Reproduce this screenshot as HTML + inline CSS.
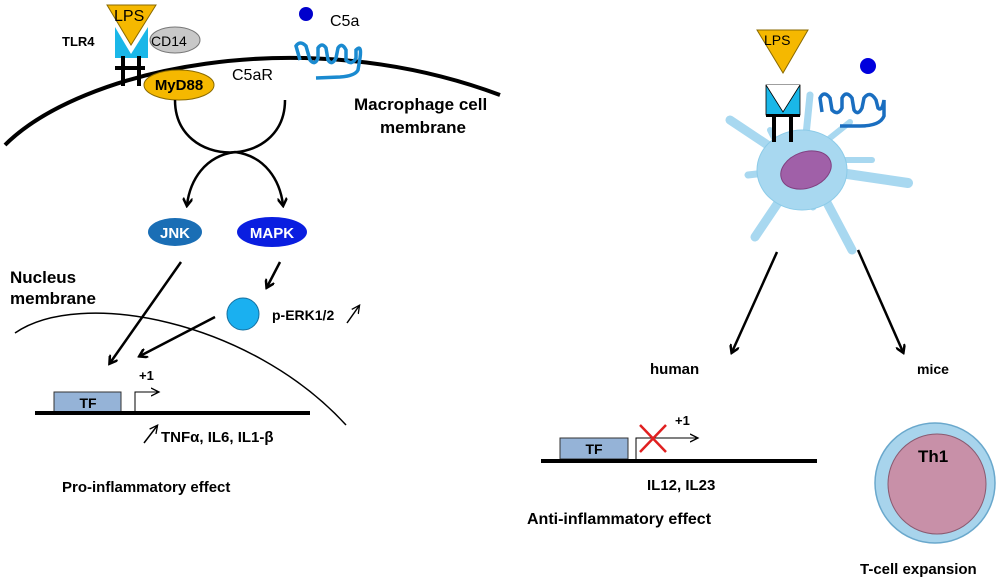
<!DOCTYPE html>
<html><head><meta charset="utf-8"><style>
html,body{margin:0;padding:0;background:#fff;}
svg{display:block;font-family:"Liberation Sans",sans-serif;font-weight:bold;}
</style></head><body>
<svg width="1000" height="582" viewBox="0 0 1000 582" xmlns="http://www.w3.org/2000/svg">
<defs>
<marker id="ah" markerWidth="10" markerHeight="10" refX="7" refY="5" orient="auto" markerUnits="userSpaceOnUse">
<path d="M0,0 L8,5 L0,10" fill="none" stroke="#000" stroke-width="2.5"/></marker>
<marker id="ah2" markerWidth="10" markerHeight="10" refX="7" refY="5" orient="auto" markerUnits="userSpaceOnUse">
<path d="M0,1 L8,5 L0,9" fill="none" stroke="#000" stroke-width="1.3"/></marker>
</defs>
<path d="M5,145 C 80,70 300,20 500,95" fill="none" stroke="#000" stroke-width="4"/>
<path d="M115,27 L148,27 L148,58 L115,58 Z" fill="#1ab7e8"/>
<path d="M115,27 L131,54 L148,27" fill="#fff"/>
<rect x="121" y="56" width="4" height="30" fill="#000"/><rect x="137" y="56" width="4" height="30" fill="#000"/>
<rect x="115" y="66" width="30" height="4" fill="#000"/>
<polygon points="107,5 156,5 131,45" fill="#f5b800" stroke="#8a6a00" stroke-width="1"/>
<text x="114" y="21" font-size="16" font-weight="normal">LPS</text>
<ellipse cx="175" cy="40" rx="25" ry="13" fill="#c8c8c8" stroke="#777"/>
<text x="151" y="46" font-size="14" font-weight="normal">CD14</text>
<text x="62" y="46" font-size="13">TLR4</text>
<ellipse cx="179" cy="85" rx="35" ry="15" fill="#f5b800" stroke="#8a6a00"/>
<text x="179" y="90" font-size="15" text-anchor="middle">MyD88</text>
<circle cx="306" cy="14" r="7" fill="#0000cc"/>
<text x="330" y="26" font-size="16" font-weight="normal">C5a</text>
<path d="M300,60 L296,46 Q300,40 306,46 L310,60 Q315,66 318,58 L318,48 Q322,42 326,48 L328,60 Q332,66 336,58 L338,48 Q342,42 346,50 L346,60 Q352,66 356,58 L356,50 Q362,44 360,58 L358,70 Q355,76 340,77 L316,78" fill="none" stroke="#1a8ad0" stroke-width="3.5"/>
<text x="232" y="80" font-size="16" font-weight="normal">C5aR</text>
<text x="354" y="110" font-size="17">Macrophage cell</text>
<text x="380" y="133" font-size="17">membrane</text>
<path d="M175,100 C 175,170 285,170 285,100" fill="none" stroke="#000" stroke-width="2.5"/>
<path d="M235,152 C 205,156 190,180 187,205" fill="none" stroke="#000" stroke-width="2.5" marker-end="url(#ah)"/>
<path d="M235,152 C 265,156 280,180 283,205" fill="none" stroke="#000" stroke-width="2.5" marker-end="url(#ah)"/>
<ellipse cx="175" cy="232" rx="27" ry="14" fill="#1a6eb5"/>
<text x="175" y="238" font-size="15" fill="#fff" text-anchor="middle">JNK</text>
<ellipse cx="272" cy="232" rx="35" ry="15" fill="#0a1ee0"/>
<text x="272" y="238" font-size="15" fill="#fff" text-anchor="middle">MAPK</text>
<text x="10" y="283" font-size="17">Nucleus</text>
<text x="10" y="304" font-size="17">membrane</text>
<line x1="181" y1="262" x2="110" y2="363" stroke="#000" stroke-width="2.5" marker-end="url(#ah)"/>
<line x1="280" y1="262" x2="267" y2="287" stroke="#000" stroke-width="2.5" marker-end="url(#ah)"/>
<circle cx="243" cy="314" r="16" fill="#1ab0f0" stroke="#1570a0"/>
<text x="272" y="320" font-size="14">p-ERK1/2</text>
<line x1="347" y1="323" x2="359" y2="306" stroke="#000" stroke-width="1.5" marker-end="url(#ah2)"/>
<line x1="215" y1="317" x2="140" y2="356" stroke="#000" stroke-width="2.5" marker-end="url(#ah)"/>
<path d="M15,333 C 80,288 250,320 346,425" fill="none" stroke="#000" stroke-width="1.5"/>
<rect x="54" y="392" width="67" height="20" fill="#95b3d7" stroke="#333"/>
<text x="88" y="408" font-size="14" text-anchor="middle">TF</text>
<line x1="35" y1="413" x2="310" y2="413" stroke="#000" stroke-width="4"/>
<path d="M135,413 L135,392 L158,392" fill="none" stroke="#000" stroke-width="1" marker-end="url(#ah2)"/>
<text x="139" y="380" font-size="13">+1</text>
<line x1="144" y1="443" x2="157" y2="426" stroke="#000" stroke-width="1.5" marker-end="url(#ah2)"/>
<text x="161" y="442" font-size="15">TNFα, IL6, IL1-β</text>
<text x="62" y="492" font-size="15">Pro-inflammatory effect</text>
<g stroke="#a8d8f0" stroke-linecap="round" fill="none">
<path d="M790,160 L730,120" stroke-width="9"/>
<path d="M790,170 L748,175" stroke-width="7"/>
<path d="M790,185 L755,237" stroke-width="9"/>
<path d="M800,190 L813,207" stroke-width="7"/>
<path d="M815,180 L852,250" stroke-width="9"/>
<path d="M820,170 L908,183" stroke-width="10"/>
<path d="M820,160 L872,160" stroke-width="6"/>
<path d="M815,150 L850,122" stroke-width="6"/>
<path d="M805,145 L810,95" stroke-width="7"/>
<path d="M780,150 L770,130" stroke-width="6"/>
</g>
<ellipse cx="802" cy="170" rx="45" ry="40" fill="#a8d8f0" stroke="#8ccbe8"/>
<ellipse cx="806" cy="170" rx="26" ry="18" fill="#a060a8" stroke="#804080" transform="rotate(-20 806 170)"/>
<path d="M766,85 L800,85 L800,115 L766,115 Z" fill="#1ab7e8" stroke="#000" stroke-width="0.8"/>
<path d="M766,85 L783,112 L800,85" fill="#fff" stroke="#000" stroke-width="0.8"/>
<rect x="772" y="115" width="4" height="27" fill="#000"/><rect x="789" y="115" width="4" height="27" fill="#000"/>
<rect x="766" y="114" width="34" height="3" fill="#000"/>
<polygon points="757,30 808,30 783,73" fill="#f5b800" stroke="#8a6a00"/>
<text x="764" y="45" font-size="14" font-weight="normal">LPS</text>
<circle cx="868" cy="66" r="8" fill="#0000dd"/>
<path d="M822,112 L820,98 Q824,90 830,98 L832,110 Q838,116 842,108 L842,98 Q846,90 852,98 L854,110 Q858,116 862,108 L864,98 Q870,90 876,100 L878,108 Q882,112 884,100 L884,116 Q880,126 860,126 L840,126" fill="none" stroke="#1a6ec0" stroke-width="3.5"/>
<line x1="777" y1="252" x2="732" y2="352" stroke="#000" stroke-width="2.5" marker-end="url(#ah)"/>
<line x1="858" y1="250" x2="903" y2="352" stroke="#000" stroke-width="2.5" marker-end="url(#ah)"/>
<text x="650" y="374" font-size="15">human</text>
<text x="917" y="374" font-size="14">mice</text>
<rect x="560" y="438" width="68" height="21" fill="#95b3d7" stroke="#333"/>
<text x="594" y="454" font-size="14" text-anchor="middle">TF</text>
<line x1="541" y1="461" x2="817" y2="461" stroke="#000" stroke-width="4"/>
<path d="M636,461 L636,438 L697,438" fill="none" stroke="#000" stroke-width="1" marker-end="url(#ah2)"/>
<path d="M640,425 L666,452 M666,425 L640,452" stroke="#e02020" stroke-width="2.5"/>
<text x="675" y="425" font-size="13">+1</text>
<text x="647" y="490" font-size="15">IL12, IL23</text>
<text x="527" y="524" font-size="16">Anti-inflammatory effect</text>
<circle cx="935" cy="483" r="60" fill="#a8d4ec" stroke="#6aa8cc" stroke-width="1.5"/>
<ellipse cx="937" cy="484" rx="49" ry="50" fill="#c890a8" stroke="#8a5a70"/>
<text x="918" y="462" font-size="17">Th1</text>
<text x="860" y="574" font-size="15">T-cell expansion</text>
</svg>
</body></html>
